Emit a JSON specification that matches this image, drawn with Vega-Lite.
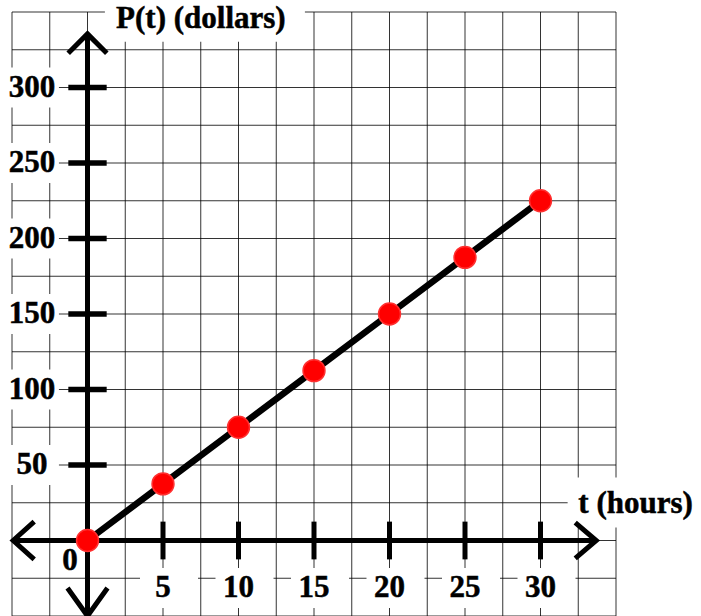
{
  "$schema": "https://vega.github.io/schema/vega-lite/v6.json",
  "width": 604,
  "height": 604,
  "autosize": {"type": "none"},
  "padding": {"left": 12, "top": 12, "right": 85, "bottom": 0},
  "background": "white",
  "config": {"view": {"stroke": null}},
  "datasets": {
    "pts": [
      {"t": 0, "P": 0}, {"t": 5, "P": 37.5}, {"t": 10, "P": 75}, {"t": 15, "P": 112.5},
      {"t": 20, "P": 150}, {"t": 25, "P": 187.5}, {"t": 30, "P": 225}
    ],
    "xgrid": [
      {"g": -5}, {"g": -2.5}, {"g": 0}, {"g": 2.5}, {"g": 5}, {"g": 7.5}, {"g": 10}, {"g": 12.5},
      {"g": 15}, {"g": 17.5}, {"g": 20}, {"g": 22.5}, {"g": 25}, {"g": 27.5}, {"g": 30}, {"g": 32.5}, {"g": 35}
    ],
    "ygrid": [
      {"g": -50}, {"g": -25}, {"g": 0}, {"g": 25}, {"g": 50}, {"g": 75}, {"g": 100}, {"g": 125},
      {"g": 150}, {"g": 175}, {"g": 200}, {"g": 225}, {"g": 250}, {"g": 275}, {"g": 300}, {"g": 325}, {"g": 350}
    ],
    "xlab": [
      {"t": 5, "label": "5"}, {"t": 10, "label": "10"}, {"t": 15, "label": "15"},
      {"t": 20, "label": "20"}, {"t": 25, "label": "25"}, {"t": 30, "label": "30"}
    ],
    "ylab": [
      {"P": 50, "label": "50"}, {"P": 100, "label": "100"}, {"P": 150, "label": "150"},
      {"P": 200, "label": "200"}, {"P": 250, "label": "250"}, {"P": 300, "label": "300"}
    ],
    "axes": [
      {"t": -4.92, "P": 0, "t2": 33.69, "P2": 0},
      {"t": 0, "P": -50, "t2": 0, "P2": 335.5}
    ],
    "one": [{"k": 1}]
  },
  "layer": [
    {
      "data": {"name": "xgrid"},
      "mark": {"type": "rule", "color": "#000", "strokeWidth": 1, "opacity": 0.8},
      "encoding": {"x": {"field": "g", "type": "quantitative", "scale": {"domain": [-5, 35], "nice": false, "zero": false}, "axis": null}}
    },
    {
      "data": {"name": "ygrid"},
      "mark": {"type": "rule", "color": "#000", "strokeWidth": 1, "opacity": 0.8},
      "encoding": {"y": {"field": "g", "type": "quantitative", "scale": {"domain": [-50, 350], "nice": false, "zero": false}, "axis": null}}
    },
    {
      "data": {"name": "ylab"},
      "mark": {"type": "point", "shape": "M-2.7,-2L2.7,-2L2.7,2L-2.7,2Z", "size": 400, "filled": true, "fill": "white", "strokeWidth": 0, "opacity": 1},
      "encoding": {
        "x": {"datum": -3.68, "type": "quantitative", "axis": null},
        "y": {"field": "P", "type": "quantitative", "axis": null}
      }
    },
    {
      "data": {"name": "xlab"},
      "mark": {"type": "point", "shape": "M-2.3,-2L3.5,-2L3.5,2L-2.3,2Z", "size": 400, "filled": true, "fill": "white", "strokeWidth": 0, "opacity": 1},
      "encoding": {
        "x": {"field": "t", "type": "quantitative", "axis": null},
        "y": {"datum": -31.5, "type": "quantitative", "axis": null}
      }
    },
    {
      "data": {"name": "one"},
      "mark": {"type": "point", "shape": "M-9.6,-2.3L10.4,-2.3L10.4,2.3L-9.6,2.3Z", "size": 400, "filled": true, "fill": "white", "strokeWidth": 0, "opacity": 1},
      "encoding": {
        "x": {"datum": 7.51, "type": "quantitative", "axis": null},
        "y": {"datum": 345.5, "type": "quantitative", "axis": null}
      }
    },
    {
      "data": {"name": "one"},
      "mark": {"type": "point", "shape": "M-6.8,-2.5L6.9,-2.5L6.9,2.5L-6.8,2.5Z", "size": 400, "filled": true, "fill": "white", "strokeWidth": 0, "opacity": 1},
      "encoding": {
        "x": {"datum": 36.3, "type": "quantitative", "axis": null},
        "y": {"datum": 25.2, "type": "quantitative", "axis": null}
      }
    },
    {
      "data": {"name": "axes"},
      "mark": {"type": "rule", "color": "#000", "strokeWidth": 5},
      "encoding": {
        "x": {"field": "t", "type": "quantitative", "axis": null},
        "x2": {"field": "t2"},
        "y": {"field": "P", "type": "quantitative", "axis": null},
        "y2": {"field": "P2"}
      }
    },
    {
      "data": {"name": "xlab"},
      "mark": {"type": "rule", "color": "#000", "strokeWidth": 5},
      "encoding": {
        "x": {"field": "t", "type": "quantitative", "axis": null},
        "y": {"datum": -12.5, "type": "quantitative", "axis": null},
        "y2": {"datum": 12.5}
      }
    },
    {
      "data": {"name": "ylab"},
      "mark": {"type": "rule", "color": "#000", "strokeWidth": 5.5},
      "encoding": {
        "x": {"datum": -1.27, "type": "quantitative", "axis": null},
        "x2": {"datum": 1.27},
        "y": {"field": "P", "type": "quantitative", "axis": null}
      }
    },
    {
      "data": {"name": "one"},
      "mark": {"type": "point", "shape": "M-1,1L0,0L1,1", "size": 1490, "filled": false, "stroke": "#000", "strokeWidth": 5, "strokeJoin": "miter", "opacity": 1},
      "encoding": {
        "x": {"datum": 0, "type": "quantitative", "axis": null},
        "y": {"datum": 335.5, "type": "quantitative", "axis": null}
      }
    },
    {
      "data": {"name": "one"},
      "mark": {"type": "point", "shape": "M-1,-1.4L0,0L1,-1.4", "size": 1600, "filled": false, "stroke": "#000", "strokeWidth": 5, "strokeJoin": "miter", "opacity": 1},
      "encoding": {
        "x": {"datum": 0, "type": "quantitative", "axis": null},
        "y": {"datum": -50, "type": "quantitative", "axis": null}
      }
    },
    {
      "data": {"name": "one"},
      "mark": {"type": "point", "shape": "M1,-0.9L0,0L1,0.9", "size": 1764, "filled": false, "stroke": "#000", "strokeWidth": 5, "strokeJoin": "miter", "opacity": 1},
      "encoding": {
        "x": {"datum": -4.92, "type": "quantitative", "axis": null},
        "y": {"datum": 0, "type": "quantitative", "axis": null}
      }
    },
    {
      "data": {"name": "one"},
      "mark": {"type": "point", "shape": "M-1,-0.85L0,0L-1,0.85", "size": 1764, "filled": false, "stroke": "#000", "strokeWidth": 5, "strokeJoin": "miter", "opacity": 1},
      "encoding": {
        "x": {"datum": 33.69, "type": "quantitative", "axis": null},
        "y": {"datum": 0, "type": "quantitative", "axis": null}
      }
    },
    {
      "data": {"name": "pts"},
      "mark": {"type": "line", "color": "#000", "strokeWidth": 6.5},
      "encoding": {
        "x": {"field": "t", "type": "quantitative", "axis": null},
        "y": {"field": "P", "type": "quantitative", "axis": null},
        "order": {"field": "t"}
      }
    },
    {
      "data": {"name": "pts"},
      "mark": {"type": "point", "shape": "circle", "size": 480, "filled": true, "fill": "#ff0000", "stroke": "#ff3030", "strokeWidth": 1.5, "opacity": 1},
      "encoding": {
        "x": {"field": "t", "type": "quantitative", "axis": null},
        "y": {"field": "P", "type": "quantitative", "axis": null}
      }
    },
    {
      "data": {"name": "ylab"},
      "mark": {"type": "text", "font": "Liberation Serif", "fontWeight": "bold", "fontSize": 31, "align": "center", "baseline": "middle", "color": "#000", "stroke": "#000", "strokeWidth": 0.5},
      "encoding": {
        "x": {"datum": -3.68, "type": "quantitative", "axis": null},
        "y": {"field": "P", "type": "quantitative", "axis": null},
        "text": {"field": "label"}
      }
    },
    {
      "data": {"name": "xlab"},
      "mark": {"type": "text", "font": "Liberation Serif", "fontWeight": "bold", "fontSize": 31, "align": "center", "baseline": "middle", "color": "#000", "stroke": "#000", "strokeWidth": 0.5},
      "encoding": {
        "x": {"field": "t", "type": "quantitative", "axis": null},
        "y": {"datum": -31.5, "type": "quantitative", "axis": null},
        "text": {"field": "label"}
      }
    },
    {
      "data": {"values": [{"label": "0"}]},
      "mark": {"type": "text", "font": "Liberation Serif", "fontWeight": "bold", "fontSize": 31, "align": "center", "baseline": "middle", "color": "#000", "stroke": "#000", "strokeWidth": 0.5},
      "encoding": {
        "x": {"datum": -1.16, "type": "quantitative", "axis": null},
        "y": {"datum": -13.3, "type": "quantitative", "axis": null},
        "text": {"field": "label"}
      }
    },
    {
      "data": {"values": [{"label": "P(t) (dollars)"}]},
      "mark": {"type": "text", "font": "Liberation Serif", "fontWeight": "bold", "fontSize": 31, "align": "center", "baseline": "middle", "color": "#000", "stroke": "#000", "strokeWidth": 0.5},
      "encoding": {
        "x": {"datum": 7.51, "type": "quantitative", "axis": null},
        "y": {"datum": 345.5, "type": "quantitative", "axis": null},
        "text": {"field": "label"}
      }
    },
    {
      "data": {"values": [{"label": "t (hours)"}]},
      "mark": {"type": "text", "font": "Liberation Serif", "fontWeight": "bold", "fontSize": 31, "align": "center", "baseline": "middle", "color": "#000", "stroke": "#000", "strokeWidth": 0.5},
      "encoding": {
        "x": {"datum": 36.3, "type": "quantitative", "axis": null},
        "y": {"datum": 24.5, "type": "quantitative", "axis": null},
        "text": {"field": "label"}
      }
    }
  ]
}
